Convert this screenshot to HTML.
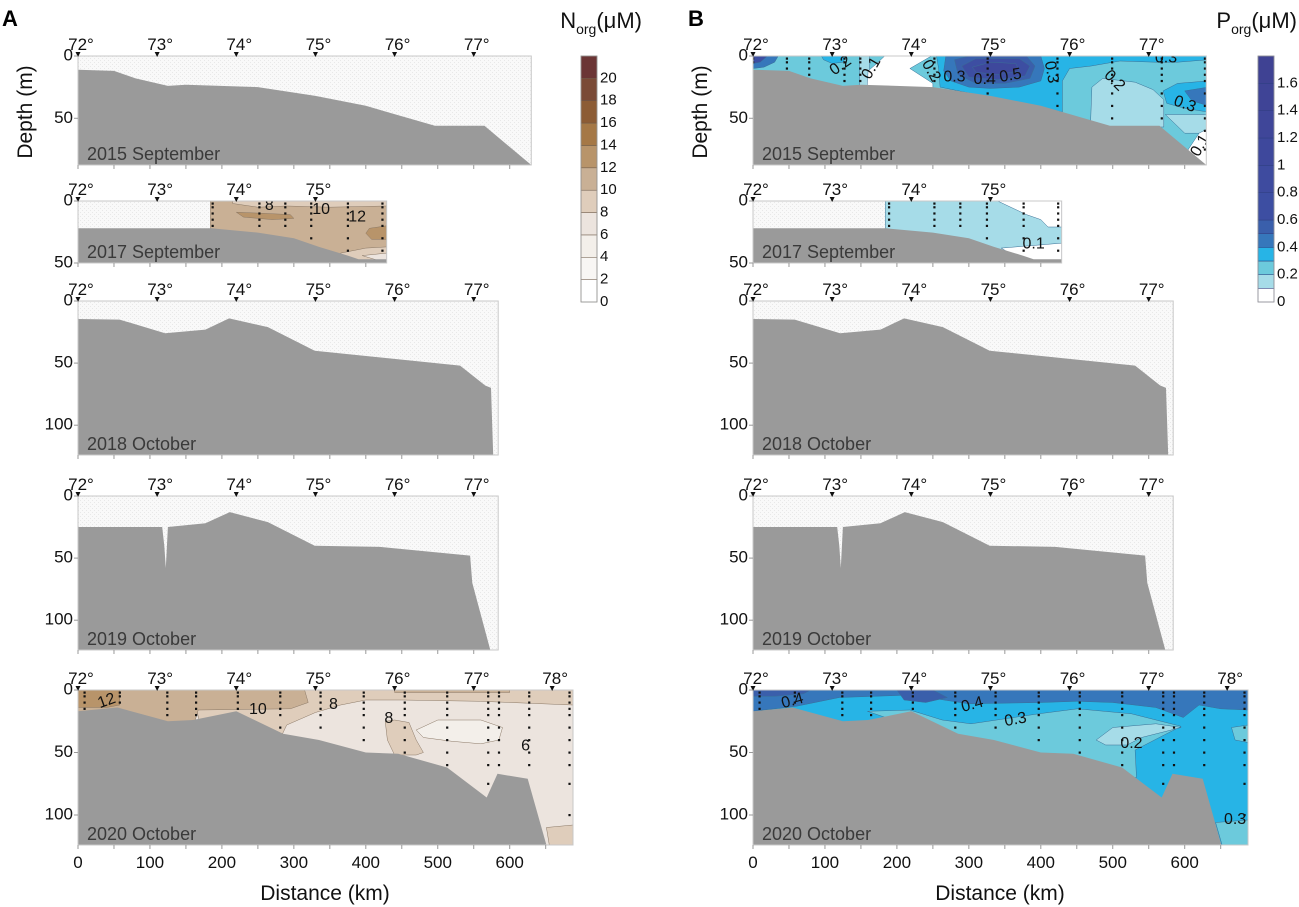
<!DOCTYPE html>
<html><head><meta charset="utf-8">
<style>
html,body{margin:0;padding:0;background:#fff;}
svg{display:block;font-family:"Liberation Sans",sans-serif;}
</style></head>
<body>
<svg id="fig" width="1299" height="907" viewBox="0 0 1299 907" xmlns="http://www.w3.org/2000/svg">
<defs>
<pattern id="hatch" width="4" height="4" patternUnits="userSpaceOnUse">
<rect width="4" height="4" fill="#f9f9f9"/><rect width="1" height="1" fill="#e8e8e8"/><rect x="2" y="2" width="1" height="1" fill="#e8e8e8"/>
</pattern>
</defs>
</svg>
<script>
// ---------- data ----------
const years = ["2015 September","2017 September","2018 October","2019 October","2020 October"];
const sectionTop = [56,201,301,496,690];
const sectionHeight = [109,62,154,154,155];
const sectionMaxDepth = [87.5,50,124,124,124];
const sectionMaxKm = [630,429,584,584,688];
const depthTicks = [[0,50],[0,50],[0,50,100],[0,50,100],[0,50,100]];
const degreeLabels = ["72°","73°","74°","75°","76°","77°","78°"];
const degreeKm = [0,110,220,330,440,550,659];
const kmTicks = [0,100,200,300,400,500,600];

const bathyKm2015 = [0,50,80,125,150,250,330,400,496,565,630];
const bathyD2015  = [11,12,18,24,23,25,32,40,56,56,87.5];
const bathyKm2017 = [0,185,250,300,335,375,390,429];
const bathyD2017  = [22,22,25.5,30,37,44,47,47];
const bathyKm2018 = [0,58,121,177,210,264,329,531,566,574,577];
const bathyD2018  = [14.5,15,26,23,14,21,40,52,68,70,124];
const bathyKm2019 = [0,117,120,122,125,177,211,264,329,420,545,548,573];
const bathyD2019  = [25,25,40,58,25,22,13,21,40,41,48,70,124];
const bathyKm2020 = [0,55,125,160,220,285,335,400,445,513,568,583,625,651];
const bathyD2020  = [17,14,25,24,17,35,40,50,51,62,86,67,71,124];
const bathyKm = [bathyKm2015,bathyKm2017,bathyKm2018,bathyKm2019,bathyKm2020];
const bathyD = [bathyD2015,bathyD2017,bathyD2018,bathyD2019,bathyD2020];

const coverageA = [null,[184,429],null,null,[0,688]];
const coverageB = [[0,630],[184,429],null,null,[0,688]];

const stationsA = [[],[187,252,288,324,375,423],[],[],[9,58,124,164,222,281,337,397,454,513,570,585,627,683]];
const stationsB = [[0,47,78,127,149,252,326,423,499,568,628],[189,252,288,325,376,424],[],[],[9,58,124,164,222,281,337,397,454,513,570,585,627,683]];
const sampleDepths = [2,5,10,15,20,30,40,50,60,75,100];

const levelsA = [0,2,4,6,8,10,12,14,16,18,20,22];
const colorsA = ["#ffffff","#f8f6f4","#f3efea","#ece4de","#dfcdbb","#c9b095","#b8946a","#a57846","#8c5c35","#7a4a36","#6b3535"];
const tickLabelsA = ["0","2","4","6","8","10","12","14","16","18","20"];
const levelsB = [0,0.1,0.2,0.3,0.4,0.5,0.6,0.8,1.0,1.2,1.4,1.6,1.8];
const colorsB = ["#ffffff","#a6dce8","#6ccadc","#27b4e6","#3677bb","#3a5fab","#3d4ea2","#3e4b9f","#3e489c","#3f4699","#3f4496","#3f4293"];
const tickLabelsB = ["0","0.2","0.4","0.6","0.8","1","1.2","1.4","1.6"];
const tickValuesB = [0,0.2,0.4,0.6,0.8,1,1.2,1.4,1.6];

const contoursA = [
 [1,5,[184,429,429,184],[0,0,50,50]],
 [1,4,[215,429,429,350,290,250,215],[0,0,4,5,4,5,2]],
 [1,6,[220,260,295,300,270,230],[9,10,11,14,15,13]],
 [1,6,[405,429,429,408,400],[22,20,31,31,26]],
 [1,4,[365,400,429,429,370],[42,38,37,50,50]],
 [1,3,[395,429,429],[44,42,50]],
 [4,3,[0,688,688,0],[0,0,124,124]],
 [4,4,[160,688,688,560,450,400,365,330,290,280,170],[0,0,12,9,8,8,12,18,28,40,30]],
 [4,5,[0,315,320,295,167,160,0],[0,0,10,15,16,30,30]],
 [4,6,[0,58,58,40,0],[0,0,12,14,14]],
 [4,5,[440,600,600,440],[0,0,2,2]],
 [4,4,[427,440,460,470,480,470,440,430],[25,24,26,40,50,52,52,40]],
 [4,2,[470,500,560,590,585,560,520,480],[32,24,24,30,40,43,41,38]],
 [4,4,[651,688,688,655],[110,108,124,124]]
];
const contoursB = [
 [0,2,[0,630,630,0],[0,0,90,90]],
 [0,1,[148,162,162,148],[0,0,30,30]],
 [0,1,[469,471,486,531,556,571,571],[57,25,18,21,27,35,57]],
 [0,1,[573,633,633,600],[47,47,62,62]],
 [0,0,[158,160,172,183,248,218,250,250],[30,12,6,0,0,10,22,30]],
 [0,0,[605,620,633,633,600],[75,62,58,90,90]],
 [0,3,[255,633,633,590,560,510,470,440,430,430,260,258],[0,0,3,5,5,4,8,10,20,45,25,10]],
 [0,3,[570,590,633,633,600,575],[28,22,20,45,42,38]],
 [0,3,[95,130,125,110,98],[0,0,5,6,3]],
 [0,4,[268,400,405,400,370,330,300,275,265],[0,0,10,20,25,26,25,20,12]],
 [0,4,[600,633,633,610],[28,25,40,36]],
 [0,4,[0,35,30,15,0],[0,0,5,9,10]],
 [0,5,[280,300,380,392,385,350,310,285],[3,0,0,8,18,22,22,15]],
 [0,6,[290,310,370,385,378,340,300],[8,2,2,8,16,19,17]],
 [0,8,[305,330,365,370,340,310],[9,5,6,12,15,13]],
 [0,6,[0,20,10,0],[0,0,5,6]],
 [1,1,[184,429,429,184],[0,0,50,50]],
 [1,0,[340,429,429,410,400,380],[0,0,21,21,15,11]],
 [1,0,[345,428,429,429,380],[38,34,34,50,50]],
 [4,3,[0,688,688,0],[0,0,124,124]],
 [4,4,[0,688,688,650,620,598,560,500,450,400,300,220,120,60,0],[0,0,16,15,12,22,14,10,9,10,11,4,6,13,17]],
 [4,5,[200,250,270,240,210],[0,0,6,10,8]],
 [4,5,[0,80,70,30,0],[0,0,3,5,5]],
 [4,2,[159,218,263,303,397,451,526,595,531,533,430],[17,16,24,27,19,15,19,29,48,70,70]],
 [4,1,[477,500,560,595,540,520,490],[40,30,27,30,38,44,44]],
 [4,2,[665,688,688,670],[30,28,42,40]],
 [4,2,[643,688,688,652],[106,104,124,124]]
];

const labelsA = [[1,"8",266,4,0],[1,"10",338,7,0],[1,"12",388,13,0],[4,"12",40,9,-20],[4,"10",250,16,0],[4,"8",355,12,0],[4,"8",432,23,0],[4,"6",622,45,0]];
const labelsB = [[0,"0.2",122,8,-35],[0,"0.1",165,10,-60],[0,"0.2",247,12,60],[0,"0.3",280,17,0],[0,"0.4",322,19,0],[0,"0.5",358,16,-10],[0,"0.3",414,13,80],[0,"0.2",502,20,45],[0,"0.3",574,2,0],[0,"0.3",600,39,20],[0,"0.1",622,72,-60],[1,"0.1",390,35,0],[4,"0.4",55,9,-15],[4,"0.4",305,12,-15],[4,"0.3",365,24,-10],[4,"0.2",526,43,0],[4,"0.3",670,104,0]];

// ---------- drawing ----------
const NS = "http://www.w3.org/2000/svg";
const svg = document.getElementById("fig");
const PXKM = 0.7195;
function el(tag, attrs, parent){
  const e = document.createElementNS(NS, tag);
  for (const k in attrs) e.setAttribute(k, attrs[k]);
  (parent||svg).appendChild(e);
  return e;
}
function xScale(x0, km){ return x0 + km*PXKM; }
function yScale(s, d){ return sectionTop[s] + d*sectionHeight[s]/sectionMaxDepth[s]; }
function bathyAt(s, km){
  const K = bathyKm[s], D = bathyD[s];
  for (let i=0;i<K.length-1;i++){ if (km>=K[i] && km<=K[i+1]) return D[i]+(D[i+1]-D[i])*(km-K[i])/(K[i+1]-K[i]); }
  return D[D.length-1];
}

function drawPanel(p){
  const x0 = p===0 ? 78 : 753;
  const contours = p===0 ? contoursA : contoursB;
  const colors = p===0 ? colorsA : colorsB;
  const coverage = p===0 ? coverageA : coverageB;
  const stations = p===0 ? stationsA : stationsB;
  const labels = p===0 ? labelsA : labelsB;
  const stroke = p===0 ? "#8a7866" : "#3a6f95";
  for (let s=0;s<5;s++){
    const top = sectionTop[s], h = sectionHeight[s], w = sectionMaxKm[s]*PXKM;
    const g = el("g", {});
    
    
    const cid = "clip"+p+"_"+s;
    const cp = el("clipPath", {id:cid}, g);
    el("rect", {x:x0, y:top, width:w, height:h}, cp);
    const bg = el("rect", {x:x0, y:top, width:w, height:h, fill:"url(#hatch)"}, g);
    
    
    const inner = el("g", {"clip-path":"url(#"+cid+")"}, g);
    contours.forEach(c=>{
      if (c[0]!==s) return;
      const pts = c[2].map((k,i)=>xScale(x0,k).toFixed(1)+","+yScale(s,c[3][i]).toFixed(1)).join(" ");
      const poly = el("polygon", {points:pts, fill:colors[c[1]], stroke:stroke, "stroke-width":0.5}, inner);
      
      
    });
    const K = bathyKm[s], D = bathyD[s];
    let pts = K.map((k,i)=>xScale(x0,k).toFixed(1)+","+yScale(s,D[i]).toFixed(1));
    pts.push(xScale(x0,K[K.length-1]).toFixed(1)+","+(top+h+2));
    pts.push(x0+","+(top+h+2));
    const sea = el("polygon", {points:pts.join(" "), fill:"#9a9a9a"}, inner);
    
    
    if (coverage[s]) stations[s].forEach(k=>{
      const bd = bathyAt(s,k);
      sampleDepths.forEach(d=>{
        if (d < bd-1.5 && d < sectionMaxDepth[s]) {
          const dot = el("rect", {x:xScale(x0,k)-1, y:yScale(s,d)-1, width:2.2, height:2.2, fill:"#111"}, inner);
          
          
        }
      });
    });
    labels.forEach(L=>{
      if (L[0]!==s) return;
      const lx = xScale(x0,L[2]), ly = yScale(s,L[3]);
      const t = el("text", {x:lx, y:ly, "font-size":16, fill:"#111", "text-anchor":"middle", "dominant-baseline":"middle", transform:"rotate("+L[4]+" "+lx+" "+ly+")"}, inner);
      t.textContent = L[1];
      
      
    });
    el("rect", {x:x0, y:top, width:w, height:h, fill:"none", stroke:"#c8c8c8", "stroke-width":1}, g);
    const yl = el("text", {x:x0+9, y:top+h-5, "font-size":18, fill:"#3a3a3a"}, g);
    yl.textContent = years[s];
    
    
    degreeKm.forEach((k,i)=>{
      if (k > sectionMaxKm[s]) return;
      const dx = xScale(x0,k);
      el("polygon", {points:(dx-2.5)+","+(top-4)+" "+(dx+2.5)+","+(top-4)+" "+dx+","+(top+1), fill:"#111"}, g);
      const t = el("text", {x:dx+3, y:top-6, "font-size":17, fill:"#111", "text-anchor":"middle"}, g);
      t.textContent = degreeLabels[i];
      
      
    });
    for (let k=0;k<=sectionMaxKm[s];k+=50){
      el("line", {x1:xScale(x0,k), x2:xScale(x0,k), y1:top+h, y2:top+h+4, stroke:"#999", "stroke-width":1}, g);
    }
    depthTicks[s].forEach(d=>{
      const yy = yScale(s,d);
      el("line", {x1:x0-4, x2:x0, y1:yy, y2:yy, stroke:"#999"}, g);
      const t = el("text", {x:x0-5, y:yy, "font-size":17, fill:"#111", "text-anchor":"end", "dominant-baseline":"middle"}, g);
      t.textContent = d;
      
      
    });
    if (s===4){
      kmTicks.forEach(k=>{
        const t = el("text", {x:xScale(x0,k), y:top+h+23, "font-size":17, fill:"#111", "text-anchor":"middle"}, g);
        t.textContent = k;
        
        
      });
    }
  }
  const xt = el("text", {x:x0+247, y:900, "font-size":21, fill:"#111", "text-anchor":"middle"});
  xt.textContent = "Distance (km)";
  
  
  const yt = el("text", {x:0, y:0, "font-size":21, fill:"#111", "text-anchor":"middle", transform:"translate("+(x0-46)+",112) rotate(-90)"});
  yt.textContent = "Depth (m)";
  
  
  const pl = el("text", {x:p===0?2:688, y:26, "font-size":22, "font-weight":"bold", fill:"#000"});
  pl.textContent = p===0 ? "A" : "B";
  
  
  const cbx = p===0 ? 581 : 1258, cbTop = 56, cbBot = 302;
  const levels = p===0 ? levelsA : levelsB;
  const vmax = levels[levels.length-1];
  const cy = v => cbBot - (v/vmax)*(cbBot-cbTop);
  const cb = el("g", {});
  
  
  for (let i=0;i<levels.length-1;i++){
    const r = el("rect", {x:cbx, y:cy(levels[i+1]), width:16, height:cy(levels[i])-cy(levels[i+1]), fill:colors[i], stroke:p===0?"#6d5a4a":"#2f3f80", "stroke-width":0.5}, cb);
    
    
  }
  el("rect", {x:cbx, y:cbTop, width:16, height:cbBot-cbTop, fill:"none", stroke:"#999", "stroke-width":0.8}, cb);
  const tl = p===0 ? tickLabelsA : tickLabelsB;
  const tv = p===0 ? levelsA : tickValuesB;
  tl.forEach((lab,i)=>{
    const t = el("text", {x:cbx+19, y:cy(tv[i]), "font-size":15, fill:"#111", "dominant-baseline":"middle"}, cb);
    t.textContent = lab;
    
    
  });
  const tt = el("text", {x:p===0?642:1297, y:28, "font-size":22, fill:"#111", "text-anchor":"end"});
  const t1 = el("tspan", {}, tt); t1.textContent = p===0 ? "N" : "P";
  const t2 = el("tspan", {"font-size":14, dy:6}, tt); t2.textContent = "org";
  const t3 = el("tspan", {dy:-6}, tt); t3.textContent = "(μM)";
  
  
}
drawPanel(0);
drawPanel(1);
</script>
</body></html>
